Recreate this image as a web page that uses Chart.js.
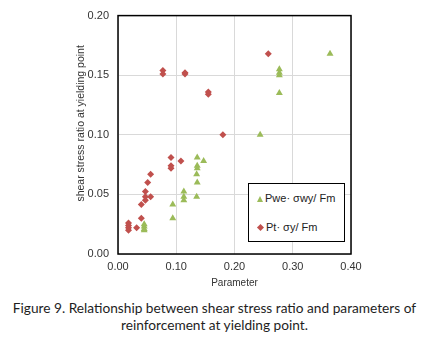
<!DOCTYPE html>
<html>
<head>
<meta charset="utf-8">
<script src="https://cdn.jsdelivr.net/npm/chart.js@4/dist/chart.umd.min.js"></script>
<style>
  html, body { margin: 0; padding: 0; background: #fff; }
  #wrap { position: relative; width: 429px; height: 338px; overflow: hidden; }
  #c { position: absolute; left: 0; top: 0; }
  #legend { position: absolute; left: 248px; top: 183px; width: 95px; height: 57px;
    border: 1px solid #000; background: #fff; font: 11px "Liberation Sans", Arial, sans-serif; color: #222; }
  .item { position: absolute; left: 8px; white-space: nowrap; }
  .tri { display: inline-block; width: 0; height: 0; border-left: 3.5px solid transparent;
    border-right: 3.5px solid transparent; border-bottom: 6px solid #9BBB59; margin-right: 2px; vertical-align: 0px; }
  .dia { display: inline-block; width: 5px; height: 5px; background: #C0504D; transform: rotate(45deg);
    margin: 0 3px 0 1px; vertical-align: 1px; }
  #caption { position: absolute; left: 0; top: 300px; width: 429px; text-align: center;
    font: 13.7px Lato, "Open Sans", sans-serif; line-height: 16.5px; color: #1e1e1e; }
</style>
</head>
<body>
<div id="wrap">
  <canvas id="c" width="429" height="290"></canvas>
  <div id="legend">
    <div class="item" style="top:8px"><span class="tri"></span>Pwe· σwy/ Fm</div>
    <div class="item" style="top:37px"><span class="dia"></span>Pt· σy/ Fm</div>
  </div>
  <div id="caption">Figure 9. Relationship between shear stress ratio and parameters of<br>reinforcement at yielding point.</div>
</div>
<script>
// Series: Pwe·σwy/Fm (green triangles)
const pweX = [0.045,0.045,0.045,0.045, 0.094,0.094, 0.113,0.113,0.113, 0.136,0.136,0.136,0.147,0.135,0.136,0.135, 0.244, 0.277,0.277,0.277,0.277, 0.364];
const pweY = [0.025,0.023,0.021,0.020, 0.0415,0.030, 0.0525,0.048,0.045, 0.081,0.074,0.072,0.078,0.067,0.060,0.048, 0.100, 0.155,0.152,0.150,0.135, 0.168];
// Series: Pt·σy/Fm (red diamonds)
const ptX = [0.018,0.018,0.018,0.018, 0.032, 0.040,0.040, 0.047,0.047,0.047, 0.056, 0.051, 0.056, 0.091,0.091,0.091, 0.108, 0.077,0.077, 0.115,0.115, 0.155,0.155, 0.180, 0.258];
const ptY = [0.026,0.024,0.022,0.020, 0.022, 0.030,0.0415, 0.0525,0.048,0.045, 0.048, 0.060, 0.067, 0.081,0.074,0.072, 0.078, 0.154,0.151, 0.152,0.151, 0.136,0.134, 0.100, 0.168];
const seriesNames = ["Pwe· σwy/ Fm", "Pt· σy/ Fm"];
const xTicks = [0.00, 0.10, 0.20, 0.30, 0.40];
const yTicks = [0.00, 0.05, 0.10, 0.15, 0.20];
const xTitle = "Parameter";
const yTitle = "shear stress ratio at yielding point";

const toPts = (xs, ys) => xs.map((x, i) => ({ x: x, y: ys[i] }));

const boxPlugin = {
  id: 'box',
  beforeDatasetsDraw(chart) {
    const { ctx, chartArea: a } = chart;
    ctx.save();
    ctx.strokeStyle = '#000';
    ctx.lineWidth = 1.5;
    ctx.strokeRect(a.left, a.top, a.right - a.left, a.bottom - a.top);
    ctx.restore();
  }
};

// y axis title, placed like the Excel original (slightly above the plot's middle)
const yTitlePlugin = {
  id: 'yTitle',
  afterDraw(chart) {
    const { ctx, chartArea: a } = chart;
    ctx.save();
    ctx.translate(81, a.top + (a.bottom - a.top) * 0.452);
    ctx.rotate(-Math.PI / 2);
    ctx.font = '10.5px "Liberation Sans", Arial, sans-serif';
    ctx.fillStyle = '#333';
    ctx.textAlign = 'center';
    ctx.textBaseline = 'middle';
    ctx.fillText(yTitle, 0, 0);
    ctx.restore();
  }
};

const tickFont = { family: '"Liberation Sans", Arial, sans-serif', size: 11 };
const titleFont = { family: '"Liberation Sans", Arial, sans-serif', size: 10 };

new Chart(document.getElementById('c'), {
  type: 'scatter',
  data: {
    datasets: [
      { label: seriesNames[0], data: toPts(pweX, pweY), pointStyle: 'triangle', pointRadius: 4,
        backgroundColor: '#9BBB59', borderColor: '#9BBB59', borderWidth: 0 },
      { label: seriesNames[1], data: toPts(ptX, ptY), pointStyle: 'rectRot', pointRadius: 3.5,
        backgroundColor: '#C0504D', borderColor: '#C0504D', borderWidth: 0 }
    ]
  },
  options: {
    responsive: false,
    devicePixelRatio: 1,
    animation: false,
    events: [],
    layout: { padding: { left: 0, right: 78, top: 10, bottom: 0 } },
    plugins: { legend: { display: false }, tooltip: { enabled: false } },
    scales: {
      x: {
        type: 'linear', min: 0, max: 0.4,
        afterBuildTicks: s => { s.ticks = xTicks.map(v => ({ value: v })); },
        afterFit: s => { s.height = 36; },
        ticks: { font: tickFont, color: '#333', padding: 6, callback: v => v.toFixed(2) },
        grid: { color: '#d9d9d9', drawTicks: false },
        border: { display: false },
        title: { display: true, text: xTitle, font: titleFont, color: '#333', padding: { top: 0, bottom: 1 } }
      },
      y: {
        type: 'linear', min: 0, max: 0.2,
        afterBuildTicks: s => { s.ticks = yTicks.map(v => ({ value: v })); },
        afterFit: s => { s.width = 118; },
        ticks: { font: tickFont, color: '#333', padding: 9, callback: v => v.toFixed(2) },
        grid: { color: '#d9d9d9', drawTicks: false },
        border: { display: false },
        title: { display: false }
      }
    }
  },
  plugins: [boxPlugin, yTitlePlugin]
});
</script>
</body>
</html>
